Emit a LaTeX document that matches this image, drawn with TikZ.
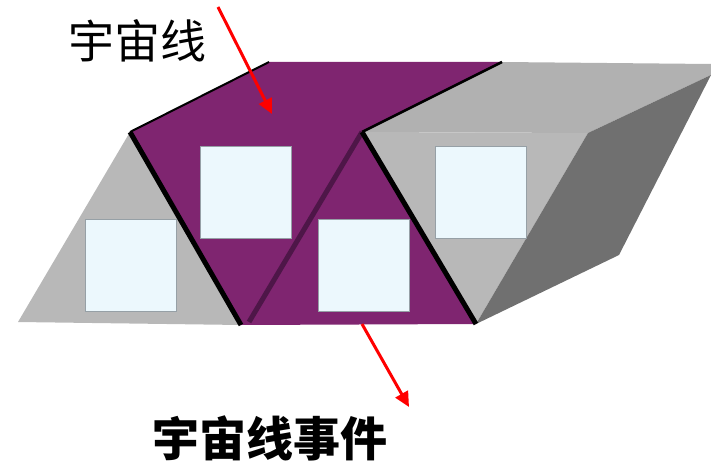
\documentclass[tikz,border=0pt]{standalone}
\usepackage{fontspec}
\newfontfamily\cjk{Noto Sans CJK SC}
\usetikzlibrary{arrows.meta}
\definecolor{band}{RGB}{127,37,112}
\definecolor{bandedge}{RGB}{78,22,72}
\definecolor{facefront}{RGB}{184,184,184}
\definecolor{facetop}{RGB}{177,177,177}
\definecolor{faceside}{RGB}{112,112,112}
\definecolor{panefill}{RGB}{236,248,253}
\definecolor{paneedge}{RGB}{150,160,166}
\tikzset{
  pane/.style={draw=paneedge, line width=1pt, fill=panefill,
    minimum width=91pt, minimum height=91pt, inner sep=0pt},
  pointer/.style={red, line width=3pt, -{Triangle[length=15pt,width=14pt]}},
  ridge/.style={black, line width=5pt},
  rim/.style={black, line width=2pt},
  label/.style={inner sep=0pt, text=black}
}
\begin{document}
\begin{tikzpicture}[x=1pt,y=-1pt]
\useasboundingbox (0,0) rectangle (711,462);
% prism vertices
\coordinate (A) at (130,132);
\coordinate (B) at (362,132);
\coordinate (C) at (588,133);
\coordinate (D) at (18,322);
\coordinate (E) at (241,325);
\coordinate (E2) at (249,322);
\coordinate (F) at (476,324);
\coordinate (G) at (269,62);
\coordinate (H) at (502,62);
\coordinate (R1) at (711,64);
\coordinate (R2) at (711,75);
\coordinate (S) at (619,255);
% faces
\fill[facefront] (D) -- (A) -- (E) -- cycle;
\fill[band] (A) -- (G) -- (H) -- (B) -- (F) -- (E) -- cycle;
\fill[facetop] (B) -- (H) -- (R1) -- (R2) -- (C) -- cycle;
\fill[facefront] (B) -- (C) -- (F) -- cycle;
\fill[faceside] (C) -- (R2) -- (S) -- (F) -- cycle;
% edges
\draw[bandedge, line width=5pt] (B) -- (E2);
\draw[ridge] (A) -- (E);
\draw[ridge] (B) -- (F);
\draw[rim] (A) -- (G);
\draw[rim, line width=2.5pt] (B) -- (H);
% windows
\node[pane] (p1) at (130.5,265.5) {};
\node[pane] (p2) at (245.5,192.5) {};
\node[pane] (p3) at (363.5,265.5) {};
\node[pane] (p4) at (480.5,192.5) {};
% labels
\node[label, font=\cjk\fontsize{46}{46}\selectfont] (lbl1) at (137,41) {宇宙线};
\node[label, font=\cjk\bfseries\fontsize{47}{47}\selectfont] (lbl2) at (270,438) {宇宙线事件};
% pointers
\coordinate (a1s) at (218,7);
\coordinate (a1e) at (272,114);
\coordinate (a2s) at (362,324);
\coordinate (a2e) at (409,407);
\draw[pointer] (a1s) -- (a1e);
\draw[pointer] (a2s) -- (a2e);
\end{tikzpicture}
\end{document}
